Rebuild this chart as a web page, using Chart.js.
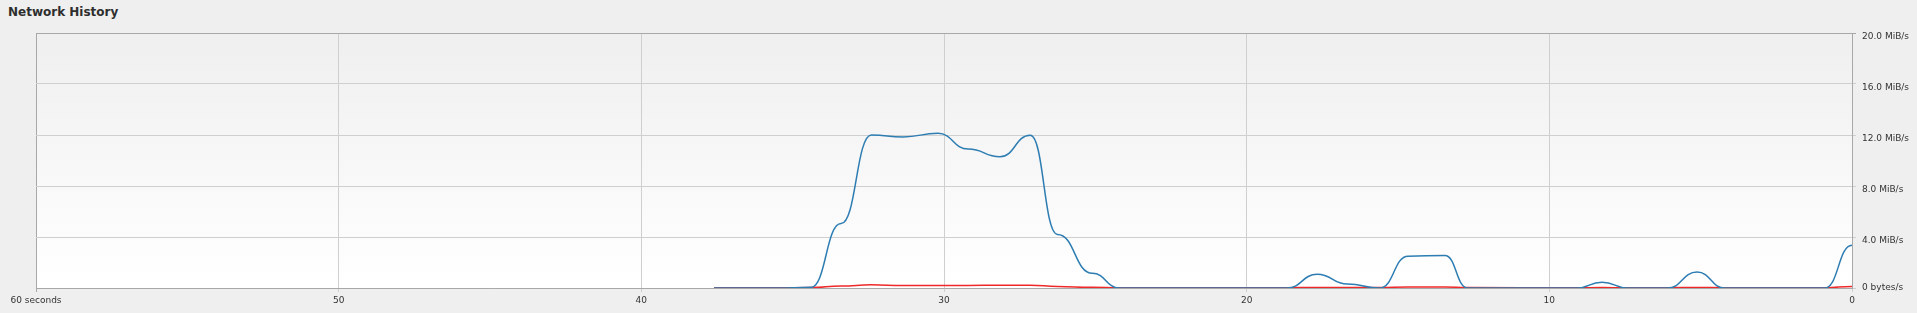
<!DOCTYPE html>
<html>
<head>
<meta charset="utf-8">
<title>Network History</title>
<script src="https://cdn.jsdelivr.net/npm/chart.js@4"></script>
<style>
  body { margin: 0; background: #efefef; }
  #wrap { position: relative; width: 1917px; height: 313px; }
  #title {
    position: absolute; left: 8px; top: 5px;
    font: bold 12px "DejaVu Sans", sans-serif; color: #2e2e2e;
  }
  canvas { position: absolute; left: 0; top: 0; }
</style>
</head>
<body>
<div id="wrap">
  <div id="title">Network History</div>
  <canvas id="netChart" width="1917" height="313"></canvas>
</div>
<script>
// --- DATA ---
// seconds ago for each sample
const sampleTimes = [37.6, 35.5, 34.4, 33.4, 32.4, 31.35, 30.2, 29.2, 28.15, 27.15, 26.25, 25.1, 24.2,
                     18.67, 17.67, 16.67, 15.6, 14.67, 13.45, 12.7, 9.1, 8.26, 7.4, 6.1, 5.12, 4.2, 0.9, 0];
// received (MiB/s)
const receivingValues = [0, 0, 0.05, 5.05, 12.0, 11.85, 12.13, 10.9, 10.3, 11.98, 4.2, 1.15, 0,
                         0, 1.07, 0.31, 0, 2.5, 2.55, 0, 0, 0.45, 0, 0, 1.25, 0, 0, 3.35];
// sent (MiB/s)
const sendingValues = [0.01, 0.02, 0.03, 0.15, 0.25, 0.2, 0.2, 0.2, 0.22, 0.22, 0.12, 0.05, 0.02,
                       0.02, 0.04, 0.03, 0.04, 0.08, 0.08, 0.03, 0.02, 0.03, 0.02, 0.02, 0.04, 0.02, 0.02, 0.12];

const xTickLabels = ['0', '10', '20', '30', '40', '50', '60 seconds'];
const yTickLabels = ['0 bytes/s', '4.0 MiB/s', '8.0 MiB/s', '12.0 MiB/s', '16.0 MiB/s', '20.0 MiB/s'];

const gridColor = '#cfcfcf';
const edgeColor = '#a8a8a8';

// build {x, y} points from the arrays
function toPoints(values) {
    return sampleTimes.map((t, i) => ({ x: t, y: values[i] }));
}

// plot background: light grey at the top fading to white
const plotBackground = {
    id: 'plotBackground',
    beforeDraw(chart) {
        const { ctx, chartArea: a } = chart;
        const g = ctx.createLinearGradient(0, a.top, 0, a.bottom);
        g.addColorStop(0, '#efefef');
        g.addColorStop(1, '#ffffff');
        ctx.save();
        ctx.fillStyle = g;
        ctx.fillRect(a.left, a.top, a.right - a.left, a.bottom - a.top);
        ctx.restore();
    }
};

// y labels sit a little under their grid line (except the bottom one)
const lowerYLabels = {
    id: 'lowerYLabels',
    beforeDraw(chart) {
        const items = chart.scales.y.getLabelItems(chart.chartArea);
        items.forEach(it => {
            if (it.label !== yTickLabels[0] && it.options && it.options.translation) {
                it.options.translation[1] += 3.5;
            }
        });
    }
};

// curve flat at every sample (control points at half way, same height)
const flatSamples = {
    id: 'flatSamples',
    beforeDatasetDraw(chart, args) {
        const pts = args.meta.data;
        for (let i = 0; i < pts.length; i++) {
            const p = pts[i], prev = pts[i - 1], next = pts[i + 1];
            p.cp1x = prev ? (prev.x + p.x) / 2 : p.x;
            p.cp1y = p.y;
            p.cp2x = next ? (next.x + p.x) / 2 : p.x;
            p.cp2y = p.y;
        }
        args.meta.dataset._pointsUpdated = true;
    }
};

new Chart(document.getElementById('netChart'), {
    type: 'line',
    data: {
        datasets: [
            { label: 'Receiving', data: toPoints(receivingValues), borderColor: '#2d7db3', borderWidth: 1.5 },
            { label: 'Sending', data: toPoints(sendingValues), borderColor: '#ef2929', borderWidth: 1.5 }
        ]
    },
    options: {
        responsive: false,
        animation: false,
        devicePixelRatio: 1,
        layout: { padding: { left: 36, top: 33, right: 0, bottom: 0 } },
        elements: { point: { radius: 0 }, line: { tension: 0.4 } },
        plugins: { legend: { display: false }, tooltip: { enabled: false } },
        scales: {
            x: {
                type: 'linear', min: 0, max: 60, reverse: true,
                afterFit: s => { s.height = 25; },
                grid: {
                    color: c => (c.tick && c.tick.value === 60 ? edgeColor : gridColor),
                    tickLength: 4
                },
                border: { color: edgeColor },
                ticks: {
                    stepSize: 10, autoSkip: false, maxRotation: 0, padding: 3,
                    color: '#333333',
                    font: { family: 'DejaVu Sans', size: 9 },
                    callback: v => xTickLabels[v / 10]
                }
            },
            y: {
                position: 'right', min: 0, max: 20,
                afterFit: s => { s.width = 65; },
                grid: {
                    color: c => (c.tick && c.tick.value === 20 ? edgeColor : gridColor),
                    tickLength: 4
                },
                border: { color: edgeColor },
                ticks: {
                    stepSize: 4, padding: 6,
                    color: '#333333',
                    font: { family: 'DejaVu Sans', size: 9 },
                    callback: v => yTickLabels[v / 4]
                }
            }
        }
    },
    plugins: [plotBackground, lowerYLabels, flatSamples]
});
</script>
</body>
</html>
